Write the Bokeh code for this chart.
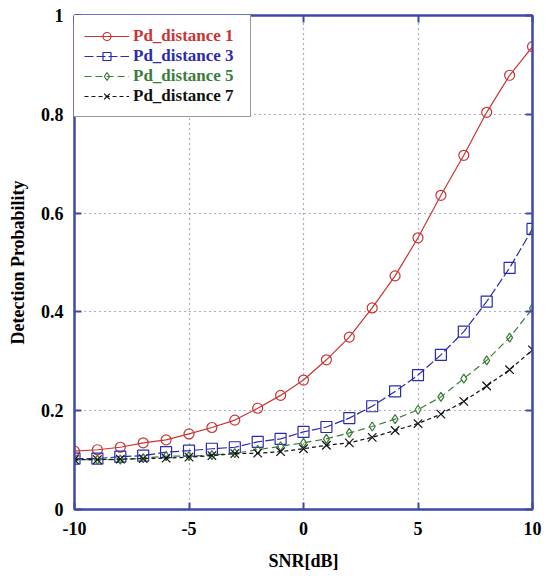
from bokeh.plotting import figure
from bokeh.models import Legend, LegendItem, LinearAxis, FixedTicker, Range1d
from bokeh.embed import file_html
from bokeh.resources import INLINE

snr = list(range(-10, 11))
pd1 = [0.118, 0.121, 0.126, 0.135, 0.141, 0.153, 0.166, 0.181, 0.205, 0.231, 0.262,
       0.303, 0.349, 0.408, 0.473, 0.550, 0.636, 0.717, 0.804, 0.879, 0.937]
pd3 = [0.103, 0.103, 0.107, 0.109, 0.116, 0.119, 0.123, 0.126, 0.137, 0.143, 0.157,
       0.167, 0.185, 0.209, 0.239, 0.272, 0.313, 0.360, 0.421, 0.489, 0.568]
pd5 = [0.101, 0.101, 0.101, 0.104, 0.108, 0.108, 0.110, 0.114, 0.121, 0.128, 0.135,
       0.143, 0.155, 0.168, 0.183, 0.202, 0.228, 0.265, 0.302, 0.348, 0.407]
pd7 = [0.101, 0.101, 0.102, 0.103, 0.104, 0.106, 0.109, 0.113, 0.114, 0.117, 0.123,
       0.130, 0.135, 0.146, 0.160, 0.174, 0.193, 0.219, 0.250, 0.283, 0.323]
labels = ["Pd_distance 1", "Pd_distance 3", "Pd_distance 5", "Pd_distance 7"]
x_ticks = [-10, -5, 0, 5, 10]
x_tick_labels = {-10: "-10", -5: "-5", 0: "0", 5: "5", 10: "10"}
y_ticks = [0, 0.2, 0.4, 0.6, 0.8, 1.0]
y_tick_labels = {0: "0", 0.2: "0.2", 0.4: "0.4", 0.6: "0.6", 0.8: "0.8", 1.0: "1"}

FONT = "Liberation Serif"
AXC = "#4048a8"
W = 553
H = 576
TOP = 15
BOTTOM = 67
LEFT = 74
RIGHT = W - 532

p = figure(width=W, height=H, output_backend="svg", toolbar_location=None,
           x_range=Range1d(-10, 10), y_range=Range1d(0, 1),
           min_border_left=LEFT, min_border_right=RIGHT, min_border_top=TOP,
           min_border_bottom=BOTTOM)
p.outline_line_color = AXC
p.outline_line_width = 2

p.xaxis.ticker = FixedTicker(ticks=x_ticks)
p.yaxis.ticker = FixedTicker(ticks=y_ticks)
p.xaxis.major_label_overrides = x_tick_labels
p.yaxis.major_label_overrides = y_tick_labels
for ax in (p.xaxis[0], p.yaxis[0]):
    ax.axis_line_color = AXC
    ax.axis_line_width = 2
    ax.major_tick_in = 7
    ax.major_tick_out = 0
    ax.major_tick_line_color = AXC
    ax.major_tick_line_width = 2
    ax.minor_tick_line_color = None
    ax.major_label_text_font = FONT
    ax.major_label_text_font_style = "bold"
    ax.major_label_text_font_size = "18px"
    ax.major_label_text_color = "black"
    ax.axis_label_text_font = FONT
    ax.axis_label_text_font_style = "bold"
    ax.axis_label_text_font_size = "18px"
    ax.axis_label_text_color = "black"
p.xaxis.axis_label = "SNR[dB]"
p.yaxis.axis_label = "Detection Probability"
p.xaxis.major_label_standoff = 12
p.yaxis.major_label_standoff = 11
p.xaxis.axis_label_standoff = 13
p.yaxis.axis_label_standoff = 10

for loc, tick in (("right", y_ticks), ("above", x_ticks)):
    ax = LinearAxis(ticker=FixedTicker(ticks=tick), axis_line_color=AXC, axis_line_width=2,
                    major_tick_in=7, major_tick_out=0, major_tick_line_color=AXC,
                    major_tick_line_width=2, minor_tick_line_color=None,
                    major_label_overrides={t: "" for t in tick}, major_label_standoff=0)
    p.add_layout(ax, loc)

p.xgrid.grid_line_color = "#5a5a90"
p.ygrid.grid_line_color = "#5a5a90"
p.xgrid.grid_line_dash = "1 4"
p.ygrid.grid_line_dash = "1 4"
p.xgrid.grid_line_width = 1.2
p.ygrid.grid_line_width = 1.2

series = [
    (pd1, "#cc3333", "solid", "circle", 10),
    (pd3, "#2a2ab0", "9 3", "square", 11),
    (pd5, "#3a7d3a", "7 4", "diamond", 9),
    (pd7, "#111111", "4 3", "x", 12),
]
renderers = []
for ys, col, dash, mk, sz in series:
    l = p.line(snr, ys, line_color=col, line_width=1.2, line_dash=dash)
    s = p.scatter(snr, ys, marker=mk, size=sz, line_color=col, fill_color=None, line_width=1.2)
    renderers.append([l, s])

dummy = p.line(x=[], y=[], line_alpha=0.0)

frame_h = H - TOP - BOTTOM
pad = 11
gh = 20
spc = 0
box_h = 4 * gh + 3 * spc + 2 * pad
common = dict(glyph_width=45, glyph_height=gh, label_height=gh, spacing=spc, padding=pad,
              margin=0, label_text_font=FONT, label_text_font_style="bold",
              label_text_font_size="17px", label_standoff=4)

box = Legend(items=[LegendItem(label="", renderers=[dummy]) for _ in labels],
             location=(-1, frame_h - box_h), border_line_color="#333333", border_line_width=1,
             background_fill_color="white", background_fill_alpha=1.0,
             label_width=105, **common)
p.add_layout(box)

for i, (lab, r, ser) in enumerate(zip(labels, renderers, series)):
    one_h = gh + 2 * pad
    lg = Legend(items=[LegendItem(label=lab, renderers=r)],
                location=(-1, frame_h - i * (gh + spc) - one_h),
                border_line_alpha=0.0, background_fill_alpha=0.0,
                label_text_color=ser[1], **common)
    p.add_layout(lg)

open("out.html", "w").write(file_html(p, INLINE))
